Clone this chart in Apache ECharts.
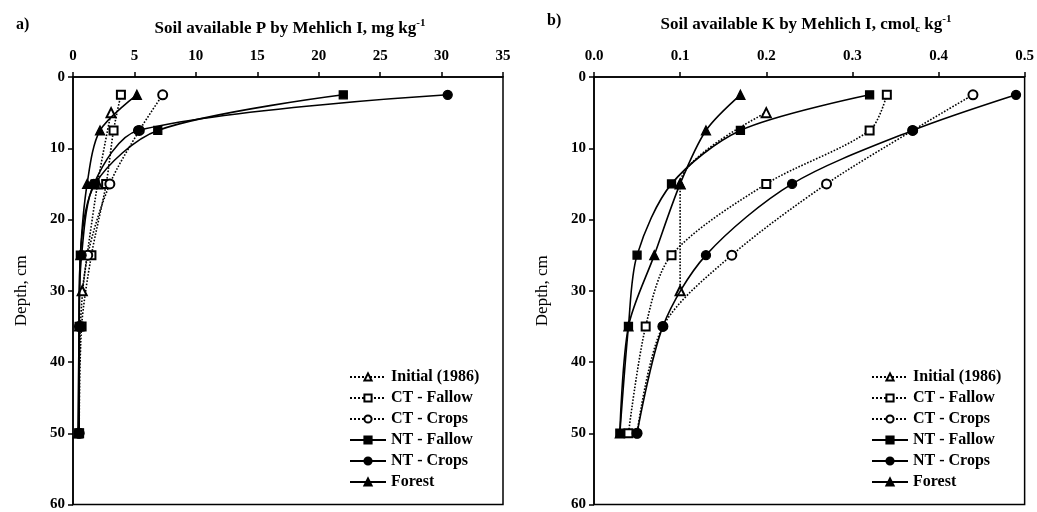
<!DOCTYPE html>
<html>
<head>
<meta charset="utf-8">
<script src="https://cdn.jsdelivr.net/npm/echarts@6/dist/echarts.min.js"></script>
<style>html,body{margin:0;padding:0;background:#fff}#c{width:1037px;height:512px}</style>
</head>
<body>
<div id="c"></div>
<script>
// Depths (cm)
const depths = [2.5, 7.5, 15, 25, 35, 50];
const initialDepths = [5, 15, 30];
const seriesNames = ['Initial (1986)', 'CT - Fallow', 'CT - Crops', 'NT - Fallow', 'NT - Crops', 'Forest'];

// Panel a: available P (mg kg-1)
const initialP = [3.1, 2.0, 0.75];
const ctFallowP = [3.9, 3.3, 2.7, 1.5, 0.7, 0.5];
const ctCropsP = [7.3, 5.4, 3.0, 1.2, 0.6, 0.5];
const ntFallowP = [22, 6.9, 1.8, 0.6, 0.5, 0.5];
const ntCropsP = [30.5, 5.3, 1.7, 0.7, 0.5, 0.5];
const forestP = [5.2, 2.2, 1.15, 0.6, 0.5, 0.4];

// Panel b: available K (cmolc kg-1)
const initialK = [0.2, 0.1, 0.1];
const ctFallowK = [0.34, 0.32, 0.2, 0.09, 0.06, 0.04];
const ctCropsK = [0.44, 0.37, 0.27, 0.16, 0.08, 0.05];
const ntFallowK = [0.32, 0.17, 0.09, 0.05, 0.04, 0.03];
const ntCropsK = [0.49, 0.37, 0.23, 0.13, 0.08, 0.05];
const forestK = [0.17, 0.13, 0.1, 0.07, 0.04, 0.03];

const depthTicks = [0, 10, 20, 30, 40, 50, 60];

const FONT = '"Liberation Serif", "DejaVu Serif", serif';
const styles = {
  'Initial (1986)': {symbol: 'emptyTriangle', dotted: true},
  'CT - Fallow': {symbol: 'emptyRect', dotted: true},
  'CT - Crops': {symbol: 'emptyCircle', dotted: true},
  'NT - Fallow': {symbol: 'rect', dotted: false},
  'NT - Crops': {symbol: 'circle', dotted: false},
  'Forest': {symbol: 'triangle', dotted: false}
};

function pairs(xs, ds) { return xs.map((v, i) => [v, ds[i]]); }

function makeSeries(idx, arrs) {
  return arrs.map((a, k) => {
    const name = seriesNames[k];
    const st = styles[name];
    return {
      name: name, type: 'line', xAxisIndex: idx, yAxisIndex: idx,
      data: pairs(a, k === 0 ? initialDepths : depths),
      smooth: 0.3,
      symbol: st.symbol, symbolSize: st.symbol.indexOf('ect') >= 0 ? 8 : 9,
      showAllSymbol: true,
      lineStyle: {color: '#000', width: 1.6, type: st.dotted ? 'dotted' : 'solid'},
      itemStyle: {color: '#000', borderColor: '#000', borderWidth: 1.3},
      emphasis: {disabled: true},
      z: st.dotted ? 3 : 4
    };
  });
}

const axisLabelStyle = {color: '#000', fontFamily: FONT, fontSize: 15, fontWeight: 'bold'};

function xAx(idx, max, interval, fmt) {
  return {
    type: 'value', gridIndex: idx, position: 'top', min: 0, max: max, interval: interval,
    axisLine: {show: true, lineStyle: {color: '#000', width: 1.5}},
    axisTick: {show: true, inside: false, length: 5, lineStyle: {color: '#000', width: 1.5}},
    axisLabel: Object.assign({margin: 13, formatter: fmt}, axisLabelStyle),
    splitLine: {show: false}
  };
}
function yAx(idx) {
  return {
    type: 'value', gridIndex: idx, inverse: true, min: 0, max: 60, interval: 10,
    name: 'Depth, cm', nameLocation: 'middle', nameGap: 43, nameRotate: 90,
    nameTextStyle: {color: '#000', fontFamily: FONT, fontSize: 17},
    axisLine: {show: true, lineStyle: {color: '#000', width: 1.5}},
    axisTick: {show: true, length: 5, lineStyle: {color: '#000', width: 1.5}},
    axisLabel: Object.assign({margin: 8, formatter: v => depthTicks.indexOf(v) >= 0 ? String(v) : ''}, axisLabelStyle),
    splitLine: {show: false}
  };
}

function legend(left) {
  return {
    orient: 'vertical', left: left, top: 363, height: 148, data: seriesNames,
    itemWidth: 36, itemHeight: 9, itemGap: 3, selectedMode: false,
    textStyle: {color: '#000', fontFamily: FONT, fontSize: 16, lineHeight: 18, fontWeight: 'bold'}
  };
}

const rich = {
  t: {fontFamily: FONT, fontSize: 17, fontWeight: 'bold', color: '#000'},
  sup: {fontFamily: FONT, fontSize: 11, fontWeight: 'bold', color: '#000', verticalAlign: 'top', padding: [0, 0, 10, 0]},
  sub: {fontFamily: FONT, fontSize: 11, fontWeight: 'bold', color: '#000', padding: [9, 0, 0, 0]}
};

const chart = echarts.init(document.getElementById('c'));
chart.setOption({
  animation: false,
  backgroundColor: '#fff',
  title: [
    {text: 'a)', left: 11, top: 12, textStyle: {fontFamily: FONT, fontSize: 16, fontWeight: 'bold', color: '#000'}},
    {text: '{t|Soil available P by Mehlich I, mg kg}{sup|-1}', left: 285, textAlign: 'center', top: 13, textStyle: {rich: rich}},
    {text: 'b)', left: 542, top: 8, textStyle: {fontFamily: FONT, fontSize: 16, fontWeight: 'bold', color: '#000'}},
    {text: '{t|Soil available K by Mehlich I, cmol}{sub|c}{t| kg}{sup|-1}', left: 801, textAlign: 'center', top: 9, textStyle: {rich: rich}}
  ],
  grid: [
    {left: 73, top: 77, width: 430, height: 431, show: true, borderColor: '#000', borderWidth: 1.5, containLabel: false},
    {left: 594, top: 77, width: 433, height: 431, show: true, borderColor: '#000', borderWidth: 1.5, containLabel: false}
  ],
  xAxis: [xAx(0, 35, 5, v => String(v)), xAx(1, 0.5, 0.1, v => v.toFixed(1))],
  yAxis: [yAx(0), yAx(1)],
  legend: [legend(344), legend(866)],
  series: makeSeries(0, [initialP, ctFallowP, ctCropsP, ntFallowP, ntCropsP, forestP])
    .concat(makeSeries(1, [initialK, ctFallowK, ctCropsK, ntFallowK, ntCropsK, forestK]))
});
</script>
</body>
</html>
